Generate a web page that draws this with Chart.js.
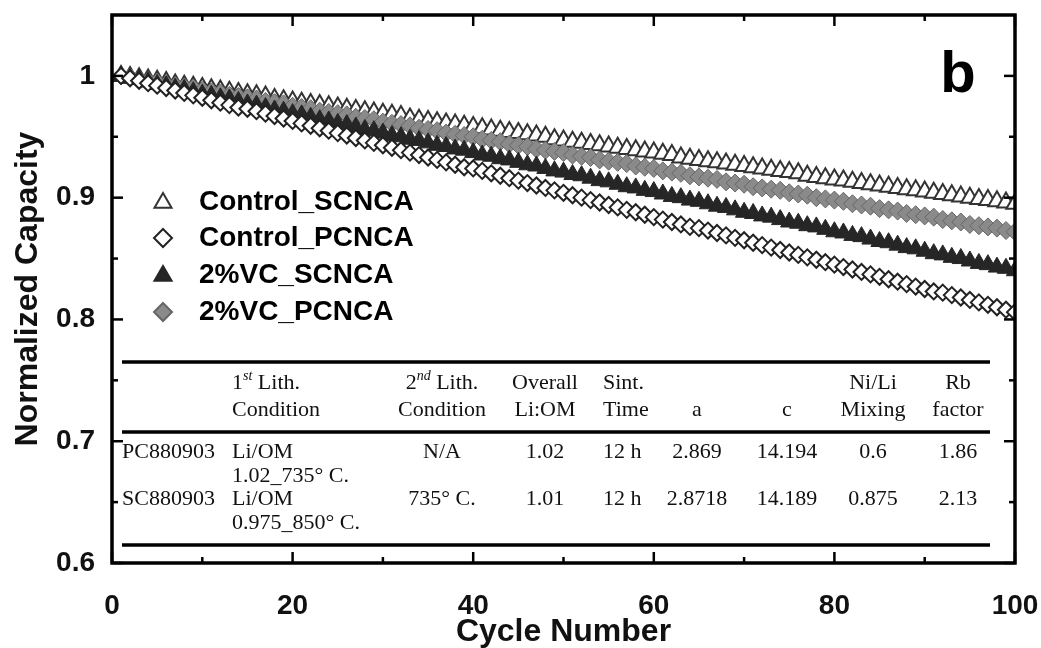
<!DOCTYPE html>
<html>
<head>
<meta charset="utf-8">
<script src="https://cdn.jsdelivr.net/npm/chart.js@4.4.0/dist/chart.umd.min.js"></script>
<style>
  html, body { margin: 0; padding: 0; background: #fff; }
  #wrap { width: 1041px; height: 648px; }
</style>
</head>
<body>
<div id="wrap"><canvas id="capChart"></canvas></div>
<script>
var cycles = [1,2,3,4,5,6,7,8,9,10,11,12,13,14,15,16,17,18,19,20,
  21,22,23,24,25,26,27,28,29,30,31,32,33,34,35,36,37,38,39,40,
  41,42,43,44,45,46,47,48,49,50,51,52,53,54,55,56,57,58,59,60,
  61,62,63,64,65,66,67,68,69,70,71,72,73,74,75,76,77,78,79,80,
  81,82,83,84,85,86,87,88,89,90,91,92,93,94,95,96,97,98,99,100];

var controlSC = [1.000,0.999,0.998,0.997,0.996,0.995,0.993,0.992,0.991,0.990,
  0.989,0.988,0.987,0.986,0.985,0.984,0.983,0.981,0.980,0.979,
  0.978,0.977,0.976,0.975,0.974,0.973,0.972,0.971,0.970,0.969,
  0.968,0.967,0.965,0.964,0.963,0.962,0.961,0.960,0.959,0.958,
  0.957,0.956,0.955,0.954,0.953,0.952,0.951,0.950,0.948,0.947,
  0.946,0.945,0.944,0.943,0.942,0.941,0.940,0.939,0.938,0.937,
  0.936,0.935,0.933,0.932,0.931,0.930,0.929,0.928,0.927,0.926,
  0.925,0.924,0.923,0.922,0.921,0.920,0.918,0.917,0.916,0.915,
  0.914,0.913,0.912,0.911,0.910,0.909,0.908,0.907,0.906,0.905,
  0.904,0.903,0.902,0.901,0.900,0.899,0.898,0.897,0.896,0.895];

var controlPC = [1.000,0.998,0.996,0.994,0.992,0.990,0.988,0.986,0.984,0.982,
  0.980,0.978,0.976,0.974,0.973,0.971,0.969,0.967,0.965,0.963,
  0.961,0.959,0.957,0.955,0.953,0.951,0.949,0.947,0.945,0.943,
  0.941,0.939,0.937,0.935,0.933,0.931,0.929,0.927,0.925,0.924,
  0.922,0.920,0.918,0.916,0.914,0.912,0.910,0.908,0.906,0.904,
  0.902,0.900,0.898,0.896,0.894,0.892,0.890,0.888,0.886,0.884,
  0.882,0.880,0.878,0.876,0.875,0.873,0.871,0.869,0.867,0.865,
  0.863,0.861,0.859,0.857,0.855,0.853,0.851,0.849,0.847,0.845,
  0.843,0.841,0.839,0.837,0.835,0.833,0.831,0.829,0.827,0.825,
  0.823,0.822,0.820,0.818,0.816,0.814,0.812,0.810,0.808,0.806];

var vcSC = [1.000,0.998,0.997,0.995,0.993,0.992,0.990,0.989,0.987,0.985,
  0.984,0.982,0.981,0.979,0.977,0.976,0.974,0.972,0.971,0.969,
  0.968,0.966,0.964,0.963,0.961,0.960,0.958,0.956,0.955,0.953,
  0.951,0.950,0.948,0.947,0.945,0.943,0.942,0.940,0.939,0.937,
  0.935,0.934,0.932,0.931,0.929,0.927,0.926,0.924,0.922,0.921,
  0.919,0.918,0.916,0.914,0.913,0.911,0.909,0.908,0.906,0.905,
  0.903,0.901,0.900,0.898,0.897,0.895,0.893,0.892,0.890,0.888,
  0.887,0.885,0.884,0.882,0.880,0.879,0.877,0.876,0.874,0.872,
  0.871,0.869,0.868,0.866,0.864,0.863,0.861,0.859,0.858,0.856,
  0.854,0.853,0.851,0.850,0.848,0.846,0.845,0.843,0.842,0.840];

var vcPC = [1.000,0.999,0.997,0.996,0.995,0.993,0.992,0.991,0.990,0.988,
  0.987,0.986,0.984,0.983,0.982,0.981,0.979,0.978,0.977,0.975,
  0.974,0.973,0.971,0.970,0.969,0.968,0.966,0.965,0.964,0.962,
  0.961,0.960,0.959,0.957,0.956,0.955,0.953,0.952,0.951,0.950,
  0.948,0.947,0.946,0.944,0.943,0.942,0.940,0.939,0.938,0.937,
  0.935,0.934,0.933,0.931,0.930,0.929,0.928,0.926,0.925,0.924,
  0.922,0.921,0.920,0.918,0.917,0.916,0.915,0.913,0.912,0.911,
  0.909,0.908,0.907,0.906,0.904,0.903,0.902,0.900,0.899,0.898,
  0.897,0.895,0.894,0.893,0.891,0.890,0.889,0.887,0.886,0.885,
  0.884,0.882,0.881,0.880,0.878,0.877,0.876,0.875,0.873,0.872];

var seriesNames = ['Control_SCNCA', 'Control_PCNCA', '2%VC_SCNCA', '2%VC_PCNCA'];

var xTicks = [0, 20, 40, 60, 80, 100];
var xMinorTicks = [10, 30, 50, 70, 90];
var yTicks = [0.6, 0.7, 0.8, 0.9, 1];
var yMinorTicks = [0.65, 0.75, 0.85, 0.95];

// inset table of sample properties ("|" wraps a superscript)
var tableHeadTop = ['', '1|st| Lith.', '2|nd| Lith.', 'Overall', 'Sint.', '', '', 'Ni/Li', 'Rb'];
var tableHeadBottom = ['', 'Condition', 'Condition', 'Li:OM', 'Time', 'a', 'c', 'Mixing', 'factor'];
var samplePC = ['PC880903', 'Li/OM', 'N/A', '1.02', '12 h', '2.869', '14.194', '0.6', '1.86'];
var samplePCNote = ['', '1.02_735° C.'];
var sampleSC = ['SC880903', 'Li/OM', '735° C.', '1.01', '12 h', '2.8718', '14.189', '0.875', '2.13'];
var sampleSCNote = ['', '0.975_850° C.'];

function toPoints(values) {
  return values.map(function(v, i) { return { x: cycles[i], y: v }; });
}

var colX = [122, 232, 442, 545, 603, 697, 787, 873, 958];
var colAlign = ['left', 'left', 'center', 'center', 'left', 'center', 'center', 'center', 'center'];

function drawCell(ctx, text, col, y) {
  if (!text) return;
  var parts = text.split('|');
  var font = '22px "Liberation Serif", "Times New Roman", serif';
  var supFont = 'italic 14px "Liberation Serif", "Times New Roman", serif';
  var w = 0;
  parts.forEach(function(p, i) {
    ctx.font = (i === 1) ? supFont : font;
    w += ctx.measureText(p).width;
  });
  var x = colAlign[col] === 'center' ? colX[col] - w / 2 : colX[col];
  ctx.textAlign = 'left';
  ctx.textBaseline = 'middle';
  parts.forEach(function(p, i) {
    ctx.font = (i === 1) ? supFont : font;
    ctx.fillText(p, x, i === 1 ? y - 7 : y);
    x += ctx.measureText(p).width;
  });
}

function markerPath(ctx, style, x, y, r) {
  ctx.beginPath();
  if (style === 'triangle') {
    ctx.moveTo(x, y - r);
    ctx.lineTo(x + r * 0.95, y + r * 0.65);
    ctx.lineTo(x - r * 0.95, y + r * 0.65);
  } else {
    ctx.moveTo(x, y - r);
    ctx.lineTo(x + r, y);
    ctx.lineTo(x, y + r);
    ctx.lineTo(x - r, y);
  }
  ctx.closePath();
}

var framePlugin = {
  id: 'framePlugin',
  afterDatasetsDraw: function(chart) {
    var ctx = chart.ctx;
    var a = chart.chartArea;
    var xs = chart.scales.x, ys = chart.scales.y;
    ctx.save();
    ctx.strokeStyle = '#000';
    ctx.lineWidth = 3.5;
    ctx.strokeRect(a.left, a.top, a.right - a.left, a.bottom - a.top);

    // inward ticks on all four sides
    ctx.lineWidth = 2.5;
    function tick(x1, y1, x2, y2) { ctx.beginPath(); ctx.moveTo(x1, y1); ctx.lineTo(x2, y2); ctx.stroke(); }
    xTicks.forEach(function(v) {
      var px = xs.getPixelForValue(v);
      tick(px, a.bottom, px, a.bottom - 11);
      tick(px, a.top, px, a.top + 11);
    });
    xMinorTicks.forEach(function(v) {
      var px = xs.getPixelForValue(v);
      tick(px, a.bottom, px, a.bottom - 6);
      tick(px, a.top, px, a.top + 6);
    });
    yTicks.forEach(function(v) {
      var py = ys.getPixelForValue(v);
      tick(a.left, py, a.left + 11, py);
      tick(a.right, py, a.right - 11, py);
    });
    yMinorTicks.forEach(function(v) {
      var py = ys.getPixelForValue(v);
      tick(a.left, py, a.left + 6, py);
      tick(a.right, py, a.right - 6, py);
    });

    // panel letter
    ctx.fillStyle = '#000';
    ctx.font = 'bold 58px "Liberation Sans", Arial, sans-serif';
    ctx.textAlign = 'center';
    ctx.textBaseline = 'middle';
    ctx.fillText('b', 958, 76);

    // legend
    var legendY = [202, 238, 275, 312];
    chart.data.datasets.forEach(function(ds, i) {
      markerPath(ctx, ds.pointStyle, 163, legendY[i], 9);
      ctx.fillStyle = ds.pointBackgroundColor;
      ctx.fill();
      ctx.lineWidth = 2;
      ctx.strokeStyle = ds.pointBorderColor;
      ctx.stroke();
      ctx.fillStyle = '#000';
      ctx.font = 'bold 28px "Liberation Sans", Arial, sans-serif';
      ctx.textAlign = 'left';
      ctx.textBaseline = 'middle';
      ctx.fillText(ds.label, 199, legendY[i]);
    });

    // table
    ctx.fillStyle = '#111';
    ctx.strokeStyle = '#000';
    ctx.lineWidth = 3.5;
    [362, 432, 545].forEach(function(ly) { tick(122, ly, 990, ly); });
    tableHeadTop.forEach(function(t, c) { drawCell(ctx, t, c, 383); });
    tableHeadBottom.forEach(function(t, c) { drawCell(ctx, t, c, 410); });
    samplePC.forEach(function(t, c) { drawCell(ctx, t, c, 452); });
    samplePCNote.forEach(function(t, c) { drawCell(ctx, t, c, 476); });
    sampleSC.forEach(function(t, c) { drawCell(ctx, t, c, 499); });
    sampleSCNote.forEach(function(t, c) { drawCell(ctx, t, c, 523); });
    ctx.restore();
  }
};

var ctx = document.getElementById('capChart');

new Chart(ctx, {
  type: 'scatter',
  data: {
    datasets: [{
      label: seriesNames[0],
      data: toPoints(controlSC),
      pointStyle: 'triangle',
      pointRadius: 10,
      pointBackgroundColor: '#ffffff',
      pointBorderColor: '#333333',
      pointBorderWidth: 2,
      order: 4
    }, {
      label: seriesNames[1],
      data: toPoints(controlPC),
      pointStyle: 'rectRot',
      pointRadius: 8,
      pointBackgroundColor: '#ffffff',
      pointBorderColor: '#222222',
      pointBorderWidth: 2,
      order: 1
    }, {
      label: seriesNames[2],
      data: toPoints(vcSC),
      pointStyle: 'triangle',
      pointRadius: 10,
      pointBackgroundColor: '#262626',
      pointBorderColor: '#262626',
      pointBorderWidth: 1,
      order: 2
    }, {
      label: seriesNames[3],
      data: toPoints(vcPC),
      pointStyle: 'rectRot',
      pointRadius: 9,
      pointBackgroundColor: '#8a8a8a',
      pointBorderColor: '#666666',
      pointBorderWidth: 1,
      order: 3
    }]
  },
  options: {
    responsive: true,
    maintainAspectRatio: false,
    animation: false,
    layout: { padding: { left: 0, right: 26, top: 15, bottom: 0 } },
    plugins: {
      legend: { display: false },
      tooltip: { enabled: false }
    },
    scales: {
      x: {
        type: 'linear',
        min: 0,
        max: 100,
        afterBuildTicks: function(scale) {
          scale.ticks = xTicks.map(function(v) { return { value: v }; });
        },
        afterFit: function(scale) {
          scale.height = 85;
          scale.paddingLeft = 0;
          scale.paddingRight = 0;
        },
        grid: { display: false, drawTicks: false },
        border: { display: false },
        ticks: {
          color: '#111',
          padding: 26,
          maxRotation: 0,
          font: { family: '"Liberation Sans", Arial, sans-serif', size: 28, weight: 'bold' }
        },
        title: {
          display: true,
          text: 'Cycle Number',
          color: '#111',
          padding: { top: 0, bottom: 0 },
          font: { family: '"Liberation Sans", Arial, sans-serif', size: 32, weight: 'bold', lineHeight: 1 }
        }
      },
      y: {
        min: 0.6,
        max: 1.05,
        afterBuildTicks: function(scale) {
          scale.ticks = yTicks.map(function(v) { return { value: v }; });
        },
        afterFit: function(scale) {
          scale.width = 112;
          scale.paddingTop = 0;
          scale.paddingBottom = 0;
        },
        grid: { display: false, drawTicks: false },
        border: { display: false },
        ticks: {
          color: '#111',
          padding: 17,
          font: { family: '"Liberation Sans", Arial, sans-serif', size: 28, weight: 'bold' },
          callback: function(v) { return v === 1 ? '1' : v.toFixed(1); }
        },
        title: {
          display: true,
          text: 'Normalized Capacity',
          color: '#111',
          padding: { top: 12, bottom: 0 },
          font: { family: '"Liberation Sans", Arial, sans-serif', size: 32, weight: 'bold', lineHeight: 1 }
        }
      }
    }
  },
  plugins: [framePlugin]
});
</script>
</body>
</html>
